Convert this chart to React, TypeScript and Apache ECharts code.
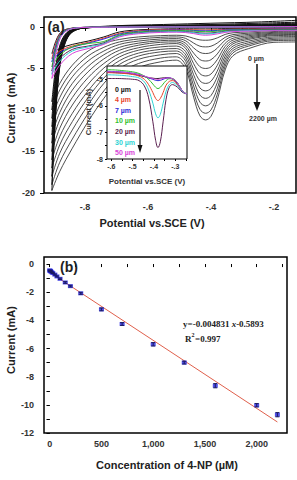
import React, { useEffect, useRef } from 'react';
import * as echarts from 'echarts';

// ---------- (a) main CV curves ----------
const fwdX = [-0.10, -0.20, -0.28, -0.33, -0.355, -0.38, -0.40, -0.417, -0.435, -0.455, -0.48, -0.51, -0.56, -0.63, -0.69, -0.74, -0.79, -0.84, -0.88, -0.905];
const revX = [-0.905, -0.897, -0.888, -0.878, -0.865, -0.85, -0.83, -0.80, -0.70, -0.55, -0.40, -0.25, -0.10];

const highConc = ['70', '100', '150', '200', '300', '500', '700', '1000', '1300', '1600', '2000', '2200'];
const highForward = [
  [-0.35, -0.4, -0.6, -0.70, -0.90, -1.32, -1.55, -1.6, -1.56, -1.37, -1.09, -1.0, -1.05, -1.2, -1.5, -2.0, -2.9, -4.6, -6.8, -9.0],
  [-0.5, -0.55, -0.75, -0.92, -1.25, -1.94, -2.32, -2.4, -2.32, -1.94, -1.38, -1.2, -1.25, -1.45, -1.8, -2.45, -3.5, -5.3, -7.6, -10.0],
  [-0.6, -0.65, -0.9, -1.13, -1.59, -2.56, -3.09, -3.2, -3.07, -2.52, -1.67, -1.4, -1.45, -1.7, -2.1, -2.9, -4.1, -6.0, -8.5, -11.0],
  [-0.7, -0.75, -1.05, -1.36, -1.97, -3.25, -3.95, -4.1, -3.93, -3.15, -1.98, -1.6, -1.65, -1.95, -2.45, -3.35, -4.75, -6.8, -9.4, -12.0],
  [-0.8, -0.85, -1.2, -1.58, -2.34, -3.94, -4.81, -5.0, -4.78, -3.78, -2.28, -1.8, -1.85, -2.2, -2.8, -3.85, -5.4, -7.6, -10.3, -13.0],
  [-0.9, -0.95, -1.35, -1.81, -2.72, -4.63, -5.67, -5.9, -5.63, -4.42, -2.59, -2.0, -2.1, -2.5, -3.2, -4.4, -6.1, -8.5, -11.2, -14.0],
  [-1.0, -1.05, -1.5, -2.03, -3.09, -5.32, -6.54, -6.8, -6.49, -5.09, -2.98, -2.3, -2.4, -2.8, -3.6, -4.95, -6.9, -9.4, -12.2, -15.0],
  [-1.15, -1.2, -1.7, -2.30, -3.50, -6.02, -7.40, -7.7, -7.34, -5.76, -3.37, -2.6, -2.7, -3.15, -4.05, -5.55, -7.7, -10.4, -13.2, -16.0],
  [-1.3, -1.35, -1.9, -2.57, -3.91, -6.72, -8.27, -8.6, -8.20, -6.43, -3.76, -2.9, -3.0, -3.5, -4.5, -6.15, -8.5, -11.4, -14.2, -17.0],
  [-1.45, -1.5, -2.1, -2.84, -4.32, -7.43, -9.13, -9.5, -9.06, -7.11, -4.15, -3.2, -3.35, -3.9, -5.0, -6.8, -9.4, -12.4, -15.2, -18.0],
  [-1.6, -1.65, -2.3, -3.11, -4.73, -8.13, -10.0, -10.4, -9.92, -7.82, -4.62, -3.6, -3.75, -4.4, -5.6, -7.7, -10.4, -13.5, -16.3, -19.0],
  [-1.8, -1.85, -2.6, -3.46, -5.18, -8.79, -10.77, -11.2, -10.70, -8.46, -5.08, -4.0, -4.2, -4.9, -6.3, -8.6, -11.4, -14.6, -17.4, -19.7],
];
const highReverse = [
  [-9.0, -6.1, -3.6, -2.0, -1.0, -0.45, -0.2, -0.1, 0.0, 0.0, 0.0, 0.0, 0.0],
  [-10.0, -6.8, -4.0, -2.2, -1.1, -0.5, -0.2, -0.1, 0.0, 0.02, 0.03, 0.04, 0.05],
  [-11.0, -7.5, -4.4, -2.4, -1.2, -0.55, -0.22, -0.1, 0.0, 0.03, 0.05, 0.07, 0.1],
  [-12.0, -8.2, -4.8, -2.6, -1.3, -0.6, -0.24, -0.1, 0.02, 0.05, 0.07, 0.1, 0.15],
  [-13.0, -8.8, -5.2, -2.9, -1.4, -0.65, -0.26, -0.1, 0.03, 0.06, 0.09, 0.13, 0.2],
  [-14.0, -9.5, -5.6, -3.1, -1.5, -0.7, -0.28, -0.1, 0.04, 0.08, 0.11, 0.16, 0.25],
  [-15.0, -10.2, -6.0, -3.3, -1.65, -0.75, -0.3, -0.1, 0.05, 0.1, 0.13, 0.19, 0.3],
  [-16.0, -10.9, -6.4, -3.5, -1.75, -0.8, -0.32, -0.1, 0.06, 0.12, 0.15, 0.22, 0.35],
  [-17.0, -11.6, -6.8, -3.7, -1.85, -0.85, -0.34, -0.1, 0.07, 0.14, 0.18, 0.26, 0.4],
  [-18.0, -12.2, -7.2, -4.0, -2.0, -0.9, -0.36, -0.1, 0.08, 0.16, 0.22, 0.32, 0.5],
  [-19.0, -12.9, -7.6, -4.2, -2.1, -0.95, -0.38, -0.1, 0.1, 0.2, 0.3, 0.45, 0.6],
  [-19.7, -13.4, -7.9, -4.3, -2.2, -1.0, -0.4, -0.1, 0.15, 0.3, 0.45, 0.6, 0.85],
];

const lowLabels = ['0 µm', '4 µm', '7 µm', '10 µm', '20 µm', '30 µm', '50 µm'];
const lowColors = ['#111111', '#e8452c', '#2b2bd8', '#2fbf2f', '#5a1f4f', '#2ed3d3', '#d845d8'];
const lowForward = [
  [-0.15, -0.15, -0.2, -0.2, -0.2, -0.22, -0.23, -0.23, -0.23, -0.22, -0.22, -0.22, -0.25, -0.35, -0.6, -1.2, -1.7, -2.1, -2.6, -3.2],
  [-0.2, -0.2, -0.25, -0.27, -0.3, -0.33, -0.36, -0.37, -0.36, -0.33, -0.3, -0.3, -0.33, -0.45, -0.75, -1.35, -1.85, -2.3, -2.9, -3.8],
  [-0.25, -0.25, -0.3, -0.33, -0.36, -0.42, -0.46, -0.47, -0.46, -0.42, -0.38, -0.36, -0.4, -0.52, -0.85, -1.45, -1.95, -2.45, -3.1, -4.2],
  [-0.3, -0.3, -0.35, -0.38, -0.42, -0.5, -0.56, -0.57, -0.55, -0.5, -0.45, -0.43, -0.47, -0.6, -0.95, -1.75, -2.0, -2.4, -3.4, -4.8],
  [-0.35, -0.35, -0.4, -0.45, -0.52, -0.64, -0.73, -0.75, -0.72, -0.63, -0.55, -0.52, -0.55, -0.7, -1.05, -1.9, -2.3, -2.7, -3.8, -5.3],
  [-0.4, -0.4, -0.45, -0.5, -0.58, -0.72, -0.82, -0.85, -0.8, -0.7, -0.6, -0.57, -0.6, -0.75, -1.1, -2.0, -2.4, -2.9, -4.1, -5.7],
  [-0.45, -0.45, -0.5, -0.56, -0.66, -0.84, -0.96, -1.0, -0.94, -0.8, -0.68, -0.63, -0.66, -0.82, -1.2, -2.1, -2.6, -3.2, -4.6, -6.2],
];
const lowReverse = [
  [-3.2, -2.2, -1.3, -0.7, -0.35, -0.2, -0.1, -0.05, 0.0, 0.0, 0.0, 0.02, 0.05],
  [-3.8, -2.6, -1.5, -0.8, -0.4, -0.22, -0.1, -0.05, -0.02, 0.0, 0.0, 0.02, 0.05],
  [-4.2, -2.9, -1.7, -0.9, -0.45, -0.24, -0.11, -0.05, -0.02, 0.0, 0.0, 0.02, 0.05],
  [-4.8, -3.3, -1.9, -1.0, -0.5, -0.26, -0.12, -0.05, -0.02, 0.0, 0.0, 0.02, 0.05],
  [-5.3, -3.6, -2.1, -1.1, -0.55, -0.28, -0.12, -0.05, -0.02, 0.0, 0.0, 0.02, 0.05],
  [-5.7, -3.9, -2.3, -1.2, -0.6, -0.3, -0.13, -0.05, -0.02, 0.0, 0.0, 0.02, 0.05],
  [-6.2, -4.2, -2.5, -1.3, -0.65, -0.32, -0.14, -0.05, -0.02, 0.0, 0.0, 0.02, 0.05],
];

// ---------- (a) inset ----------
const insetX = [-0.62, -0.58, -0.54, -0.50, -0.47, -0.445, -0.425, -0.405, -0.392, -0.381, -0.37, -0.357, -0.343, -0.328, -0.313, -0.298, -0.283, -0.268, -0.255, -0.245];
const inset0 = [-4.74, -4.75, -4.77, -4.8, -4.85, -4.9, -4.94, -4.96, -4.97, -4.97, -4.96, -4.95, -4.94, -4.95, -4.99, -5.08, -5.24, -5.43, -5.52, -5.55];
const inset4 = [-4.75, -4.76, -4.78, -4.82, -4.88, -5.0, -5.2, -5.5, -5.72, -5.8, -5.72, -5.5, -5.22, -5.08, -5.05, -5.12, -5.28, -5.45, -5.52, -5.55];
const inset7 = [-4.7, -4.71, -4.73, -4.77, -4.82, -4.88, -4.95, -5.0, -5.04, -5.05, -5.04, -5.0, -4.96, -4.95, -4.98, -5.06, -5.22, -5.42, -5.52, -5.55];
const inset10 = [-4.64, -4.65, -4.68, -4.72, -4.78, -4.88, -5.0, -5.18, -5.3, -5.35, -5.3, -5.18, -5.05, -4.98, -4.98, -5.05, -5.22, -5.42, -5.52, -5.55];
const inset20 = [-4.97, -4.97, -4.98, -5.0, -5.05, -5.25, -5.7, -6.6, -7.3, -7.57, -7.35, -6.6, -5.75, -5.3, -5.2, -5.25, -5.35, -5.48, -5.53, -5.55];
const inset30 = [-4.83, -4.84, -4.86, -4.9, -4.95, -5.1, -5.4, -5.9, -6.3, -6.45, -6.32, -5.9, -5.45, -5.2, -5.12, -5.18, -5.3, -5.45, -5.52, -5.55];
const inset50 = [-4.72, -4.72, -4.74, -4.78, -4.83, -4.88, -4.93, -4.97, -5.0, -5.0, -4.99, -4.97, -4.95, -4.95, -4.98, -5.06, -5.22, -5.42, -5.52, -5.55];
const insetCurves = [inset0, inset4, inset7, inset10, inset20, inset30, inset50];

// ---------- (b) calibration ----------
const concentration = [0, 4, 7, 10, 20, 30, 50, 70, 100, 150, 200, 300, 500, 700, 1000, 1300, 1600, 2000, 2200];
const peakCurrent = [-0.45, -0.48, -0.5, -0.52, -0.58, -0.64, -0.75, -0.88, -1.05, -1.31, -1.57, -2.08, -3.22, -4.26, -5.7, -7.0, -8.64, -10.03, -10.7];
const errorBar = [0.03, 0.03, 0.03, 0.03, 0.03, 0.03, 0.04, 0.04, 0.05, 0.06, 0.06, 0.07, 0.1, 0.1, 0.12, 0.1, 0.15, 0.12, 0.15];
const slope = -0.004831;
const intercept = -0.5893;
const fitRange = [0, 2200];

const FONT = "'Liberation Sans', Arial, sans-serif";
const SERIF = "'Liberation Serif', 'Times New Roman', serif";
const dot = (v: number) => v.toFixed(1).replace('0.', '.');

export default function App() {
  const ref = useRef<HTMLDivElement>(null);
  useEffect(() => {
    if (!ref.current) return;
    const chart = echarts.init(ref.current, undefined, { renderer: 'svg' });

    const series: any[] = [];
    highForward.forEach((row, k) => {
      series.push({
        name: highConc[k] + ' fwd', type: 'line', xAxisIndex: 0, yAxisIndex: 0, z: 2,
        data: fwdX.map((x, i) => [x, row[i]]), showSymbol: false, smooth: 0.35,
        lineStyle: { color: '#3a3a3a', width: 0.9 },
      });
      series.push({
        name: highConc[k] + ' rev', type: 'line', xAxisIndex: 0, yAxisIndex: 0, z: 2,
        data: revX.map((x, i) => [x, highReverse[k][i]]), showSymbol: false, smooth: 0.35,
        lineStyle: { color: '#111', width: 1 },
      });
    });
    lowForward.forEach((row, k) => {
      series.push({
        name: lowLabels[k] + ' fwd', type: 'line', xAxisIndex: 0, yAxisIndex: 0, z: 3,
        data: fwdX.map((x, i) => [x, row[i]]), showSymbol: false, smooth: 0.35,
        lineStyle: { color: lowColors[k], width: 1 },
      });
      series.push({
        name: lowLabels[k] + ' rev', type: 'line', xAxisIndex: 0, yAxisIndex: 0, z: 3,
        data: revX.map((x, i) => [x, lowReverse[k][i]]), showSymbol: false, smooth: 0.35,
        lineStyle: { color: lowColors[k], width: 1 },
      });
    });
    insetCurves.forEach((row, k) => {
      series.push({
        name: 'inset ' + lowLabels[k], type: 'line', xAxisIndex: 1, yAxisIndex: 1, z: 12,
        data: insetX.map((x, i) => [x, row[i]]), showSymbol: false, smooth: 0.4,
        lineStyle: { color: lowColors[k], width: 1 },
      });
    });
    series.push({
      name: 'fit', type: 'line', xAxisIndex: 2, yAxisIndex: 2, z: 3,
      data: fitRange.map((x) => [x, slope * x + intercept]), showSymbol: false,
      lineStyle: { color: '#e0604c', width: 1 },
    });
    series.push({
      name: 'points', type: 'scatter', xAxisIndex: 2, yAxisIndex: 2, z: 4,
      data: concentration.map((c, i) => [c, peakCurrent[i]]),
      symbol: 'rect', symbolSize: [5, 4], itemStyle: { color: '#2424e0' },
    });
    series.push({
      name: 'err', type: 'custom', xAxisIndex: 2, yAxisIndex: 2, z: 5,
      data: concentration.map((c, i) => [c, peakCurrent[i], errorBar[i]]),
      renderItem: (params: any, api: any) => {
        const x = api.value(0), y = api.value(1), e = api.value(2);
        const t = api.coord([x, y + e]);
        const b = api.coord([x, y - e]);
        const st = { stroke: '#1a1a60', lineWidth: 1 };
        return {
          type: 'group',
          children: [
            { type: 'line', shape: { x1: t[0], y1: t[1], x2: b[0], y2: b[1] }, style: st },
            { type: 'line', shape: { x1: t[0] - 2, y1: t[1], x2: t[0] + 2, y2: t[1] }, style: st },
            { type: 'line', shape: { x1: b[0] - 2, y1: b[1], x2: b[0] + 2, y2: b[1] }, style: st },
          ],
        };
      },
    });

    const lbl = { fontFamily: FONT, fontWeight: 'bold', fontSize: 9, color: '#333' };
    const lblSmall = { fontFamily: FONT, fontWeight: 'bold', fontSize: 7, color: '#333' };

    const option: any = {
      animation: false,
      backgroundColor: '#fff',
      grid: [
        { left: 44, top: 17, width: 252, height: 176, show: true, borderColor: '#000', borderWidth: 1.5, z: 1 },
        { left: 107, top: 66, width: 80, height: 93, show: true, borderColor: '#000', borderWidth: 1, backgroundColor: '#fff', z: 10 },
        { left: 44, top: 257, width: 243, height: 176, show: true, borderColor: '#000', borderWidth: 1.5, z: 1 },
      ],
      xAxis: [
        {
          type: 'value', gridIndex: 0, min: -0.93, max: -0.13, splitLine: { show: false },
          axisLine: { show: false },
          axisTick: { show: true, length: 4, lineStyle: { color: '#000' }, customValues: [-0.8, -0.7, -0.6, -0.5, -0.4, -0.3, -0.2] },
          axisLabel: { ...lbl, margin: 9, customValues: [-0.8, -0.6, -0.4, -0.2], formatter: dot },
        },
        {
          type: 'value', gridIndex: 1, min: -0.62, max: -0.245, splitLine: { show: false }, z: 12,
          axisLine: { show: false },
          axisTick: { show: true, length: 2, lineStyle: { color: '#000' }, customValues: [-0.6, -0.55, -0.5, -0.45, -0.4, -0.35, -0.3, -0.25] },
          axisLabel: { ...lblSmall, margin: 4, customValues: [-0.6, -0.5, -0.4, -0.3], formatter: dot },
        },
        {
          type: 'value', gridIndex: 2, min: -55, max: 2293, splitLine: { show: false },
          axisLine: { show: false },
          axisTick: { show: true, length: 3, lineStyle: { color: '#000' }, customValues: [0, 250, 500, 750, 1000, 1250, 1500, 1750, 2000, 2250] },
          axisLabel: { ...lbl, margin: 6, customValues: [0, 500, 1000, 1500, 2000] },
        },
        {
          type: 'value', gridIndex: 2, position: 'top', min: -55, max: 2293, splitLine: { show: false },
          axisLine: { show: false },
          axisTick: { show: true, inside: true, length: 3, lineStyle: { color: '#000' }, customValues: [0, 250, 500, 750, 1000, 1250, 1500, 1750, 2000, 2250] },
          axisLabel: { show: false },
        },
      ],
      yAxis: [
        {
          type: 'value', gridIndex: 0, min: -20, max: 1.2, splitLine: { show: false },
          axisLine: { show: false },
          axisTick: { show: true, length: 4, lineStyle: { color: '#000' }, customValues: [0, -5, -10, -15, -20] },
          axisLabel: { ...lbl, margin: 9, customValues: [0, -5, -10, -15, -20] },
        },
        {
          type: 'value', gridIndex: 1, min: -8, max: -4.5, splitLine: { show: false }, z: 12,
          axisLine: { show: false },
          axisTick: { show: true, length: 2, lineStyle: { color: '#000' }, customValues: [-5, -5.5, -6, -6.5, -7, -7.5, -8] },
          axisLabel: { ...lblSmall, margin: 4, customValues: [-5, -6, -7, -8] },
        },
        {
          type: 'value', gridIndex: 2, min: -12, max: 0.5, splitLine: { show: false },
          axisLine: { show: false },
          axisTick: { show: true, length: 3, lineStyle: { color: '#000' }, customValues: [0, -1, -2, -3, -4, -5, -6, -7, -8, -9, -10, -11, -12] },
          axisLabel: { ...lbl, margin: 10, customValues: [0, -2, -4, -6, -8, -10, -12] },
        },
        {
          type: 'value', gridIndex: 2, position: 'right', min: -12, max: 0.5, splitLine: { show: false },
          axisLine: { show: false },
          axisTick: { show: true, inside: true, length: 3, lineStyle: { color: '#000' }, customValues: [0, -1, -2, -3, -4, -5, -6, -7, -8, -9, -10, -11, -12] },
          axisLabel: { show: false },
        },
      ],
      series,
      graphic: [
        { type: 'text', x: 56, y: 27, z: 20, style: { text: '(a)', fontFamily: FONT, fontWeight: 'bold', fontSize: 14, fill: '#222', textAlign: 'center', textVerticalAlign: 'middle' } },
        { type: 'text', x: 152, y: 223, style: { text: 'Potential vs.SCE (V)', fontFamily: FONT, fontWeight: 'bold', fontSize: 11, fill: '#222', textAlign: 'center', textVerticalAlign: 'middle' } },
        { type: 'text', x: 11, y: 108, rotation: Math.PI / 2, style: { text: 'Current  (mA)', fontFamily: FONT, fontWeight: 'bold', fontSize: 11, fill: '#222', textAlign: 'center', textVerticalAlign: 'middle' } },
        { type: 'text', x: 256, y: 58, z: 20, style: { text: '0 µm', fontFamily: FONT, fontWeight: 'bold', fontSize: 7, fill: '#333', textAlign: 'center', textVerticalAlign: 'middle' } },
        { type: 'line', z: 20, shape: { x1: 257, y1: 64, x2: 257, y2: 104 }, style: { stroke: '#111', lineWidth: 1.5 } },
        { type: 'polygon', z: 20, shape: { points: [[253.5, 102], [260.5, 102], [257, 111]] }, style: { fill: '#111' } },
        { type: 'text', x: 263, y: 118, z: 20, style: { text: '2200 µm', fontFamily: FONT, fontWeight: 'bold', fontSize: 7, fill: '#333', textAlign: 'center', textVerticalAlign: 'middle' } },
        // inset annotations
        ...lowLabels.map((t, i) => ({
          type: 'text', x: 115, y: 89 + i * 10.6, z: 20,
          style: { text: t, fontFamily: FONT, fontWeight: 'bold', fontSize: 7, fill: lowColors[i], textAlign: 'left', textVerticalAlign: 'middle' },
        })),
        { type: 'line', z: 20, shape: { x1: 140, y1: 90, x2: 140, y2: 147 }, style: { stroke: '#111', lineWidth: 1.2 } },
        { type: 'polygon', z: 20, shape: { points: [[137.5, 145], [142.5, 145], [140, 153]] }, style: { fill: '#111' } },
        { type: 'text', x: 147, y: 181, z: 20, style: { text: 'Potential vs.SCE (V)', fontFamily: FONT, fontWeight: 'bold', fontSize: 8, fill: '#333', textAlign: 'center', textVerticalAlign: 'middle' } },
        { type: 'text', x: 88, y: 112, z: 20, rotation: Math.PI / 2, style: { text: 'Current (mA)', fontFamily: FONT, fontWeight: 'bold', fontSize: 7.5, fill: '#333', textAlign: 'center', textVerticalAlign: 'middle' } },
        // (b)
        { type: 'text', x: 69, y: 267, z: 20, style: { text: '(b)', fontFamily: FONT, fontWeight: 'bold', fontSize: 14, fill: '#222', textAlign: 'center', textVerticalAlign: 'middle' } },
        { type: 'text', x: 167, y: 465, style: { text: 'Concentration of 4-NP (µM)', fontFamily: FONT, fontWeight: 'bold', fontSize: 11, fill: '#222', textAlign: 'center', textVerticalAlign: 'middle' } },
        { type: 'text', x: 11, y: 340, rotation: Math.PI / 2, style: { text: 'Current (mA)', fontFamily: FONT, fontWeight: 'bold', fontSize: 11, fill: '#222', textAlign: 'center', textVerticalAlign: 'middle' } },
        {
          type: 'text', x: 183, y: 324, z: 20,
          style: {
            text: '{a|y=-0.004831 }{b|x}{a|-0.5893}', textAlign: 'left', textVerticalAlign: 'middle',
            rich: {
              a: { fontFamily: SERIF, fontWeight: 'bold', fontSize: 9, fill: '#222' },
              b: { fontFamily: SERIF, fontWeight: 'bold', fontStyle: 'italic', fontSize: 9, fill: '#222' },
            },
          },
        },
        { type: 'text', x: 185, y: 339, z: 20, style: { text: 'R', fontFamily: SERIF, fontWeight: 'bold', fontSize: 9, fill: '#222', textAlign: 'left', textVerticalAlign: 'middle' } },
        { type: 'text', x: 191.5, y: 335, z: 20, style: { text: '2', fontFamily: SERIF, fontWeight: 'bold', fontSize: 6, fill: '#222', textAlign: 'left', textVerticalAlign: 'middle' } },
        { type: 'text', x: 195, y: 339, z: 20, style: { text: '=0.997', fontFamily: SERIF, fontWeight: 'bold', fontSize: 9, fill: '#222', textAlign: 'left', textVerticalAlign: 'middle' } },
      ],
    };
    chart.setOption(option);
    return () => chart.dispose();
  }, []);

  return <div ref={ref} style={{ position: 'fixed', left: 0, top: 0, width: 297, height: 480, background: '#fff' }} />;
}
